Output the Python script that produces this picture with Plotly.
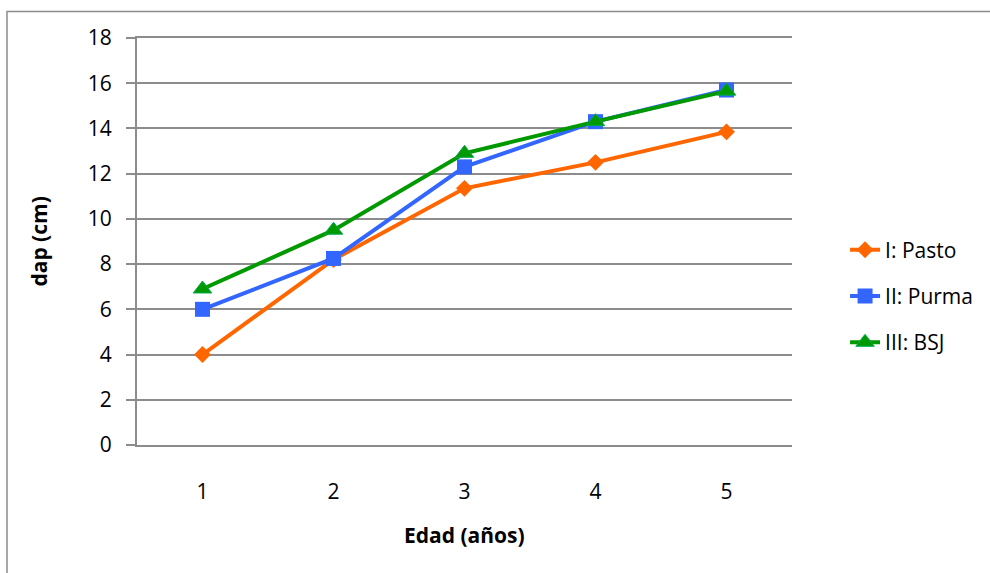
import plotly.graph_objects as go

# Age in years and mean diameter at breast height (cm) for each land-use origin
edad = [1, 2, 3, 4, 5]
pasto = [4.0, 8.2, 11.35, 12.5, 13.85]
purma = [6.0, 8.25, 12.3, 14.3, 15.7]
bsj = [6.9, 9.5, 12.9, 14.3, 15.65]

series_names = ["I: Pasto", "II: Purma", "III: BSJ"]
y_ticks = list(range(0, 19, 2))

FONT = "Open Sans, Carlito, Calibri, sans-serif"
GRID = "#8C8C8C"

fig = go.Figure()
styles = [
    (pasto, "#FF6600", dict(symbol="diamond", size=13, color="#FF6600")),
    (purma, "#3366FF", dict(symbol="square", size=15, color="#3366FF")),
    (bsj, "#009900", dict(symbol="triangle-up", size=16, color="#009900",
                          line=dict(color="#00A850", width=1))),
]
for i, (vals, col, mk) in enumerate(styles):
    fig.add_trace(go.Scatter(
        x=edad, y=vals, name=series_names[i], mode="lines+markers",
        line=dict(color=col, width=4), marker=mk,
        legendgroup=f"g{i}",
    ))

fig.update_layout(
    width=990, height=573,
    margin=dict(l=137, r=198, t=38, b=128),
    paper_bgcolor="white", plot_bgcolor="white",
    font=dict(family=FONT, size=21, color="#000000"),
    showlegend=True,
    legend=dict(x=1.081, xanchor="left", y=0.366, yanchor="middle",
                font=dict(size=21), tracegroupgap=16,
                bgcolor="rgba(0,0,0,0)"),
    xaxis=dict(range=[0.5, 5.5], tickmode="array", tickvals=edad,
               ticktext=[str(v) for v in edad], showgrid=False,
               zeroline=False, showline=True, mirror=True,
               linecolor=GRID, linewidth=2, ticks="",
               ticklabelstandoff=27, fixedrange=True),
    yaxis=dict(range=[0, 18], tickmode="array", tickvals=y_ticks,
               showgrid=True, gridcolor=GRID, gridwidth=2,
               zeroline=False, showline=True, linecolor=GRID, linewidth=2,
               ticks="outside", ticklen=9, tickcolor=GRID, tickwidth=2,
               ticklabelstandoff=10, fixedrange=True),
    annotations=[
        dict(text="<b>Edad (años)</b>", xref="paper", yref="paper",
             x=0.5, y=-0.221, xanchor="center", yanchor="middle",
             showarrow=False, font=dict(size=21)),
        dict(text="<b>dap (cm)</b>", xref="paper", yref="paper",
             x=-0.151, y=0.5, xanchor="center", yanchor="middle",
             textangle=-90, showarrow=False, font=dict(size=21)),
    ],
    shapes=[
        # chart frame
        dict(type="rect", xref="paper", yref="paper",
             x0=-0.1985, y0=-1.0, x1=2.0, y1=1.065,
             line=dict(color=GRID, width=1.5), layer="below"),
    ],
)

fig.write_html("out.html")
